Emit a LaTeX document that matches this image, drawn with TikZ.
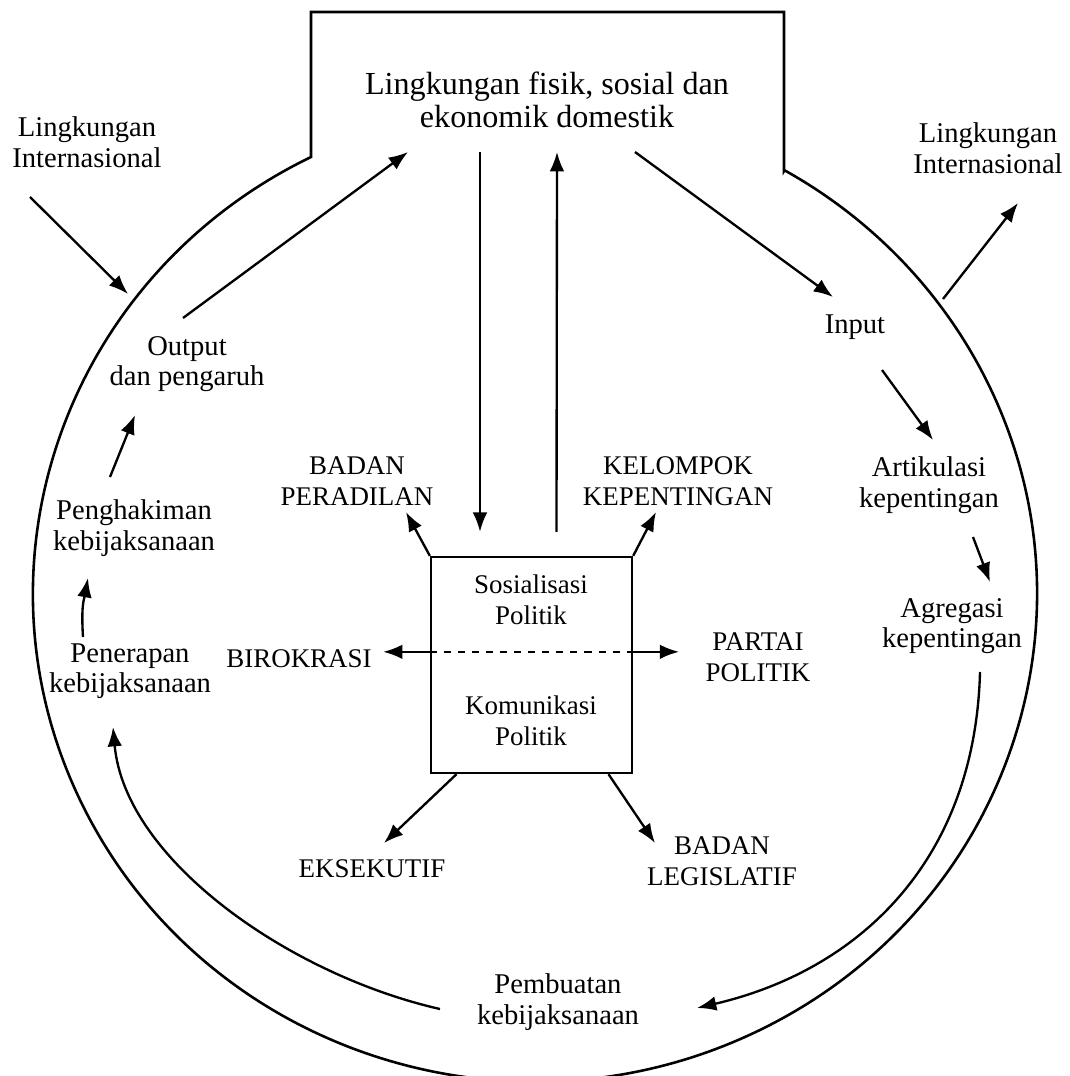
\documentclass[tikz,border=0pt]{standalone}
\usepackage{fontspec}
\setmainfont{Liberation Serif}
\usetikzlibrary{arrows.meta,calc}

\tikzset{
    lbl/.style={align=center, inner sep=1pt, font=\fontsize{12.2}{13}\selectfont},
    kap/.style={align=center, inner sep=1pt, font=\fontsize{11.5}{13}\selectfont},
    arr/.style={-{Latex[length=2.9mm,width=2.2mm]}},
}

\begin{document}
\begin{tikzpicture}[x=0.015cm, y=-0.015cm, line width=1pt]
    \useasboundingbox (0,0) rectangle (1069,1076);
    \draw[line width=1.1pt] (784,171) -- (784,12) -- (311,12) -- (311,157)
        arc[start angle=116.5, end angle=420.2, x radius=7.53cm, y radius=7.32cm] -- cycle;

    \node[align=center, font=\fontsize{13.7}{14.2}\selectfont] (env) at (547,100) {Lingkungan fisik, sosial dan\\ekonomik domestik};
    \node[lbl] (intL) at (87,142) {Lingkungan\\Internasional};
    \node[lbl] (intR) at (988,148) {Lingkungan\\Internasional};
    \node[lbl] (output) at (187,364) {Output\\dan pengaruh};
    \node[lbl] (input) at (855,327) {Input};
    \node[lbl] (artik) at (929,485) {Artikulasi\\kepentingan};
    \node[lbl] (agreg) at (952,626) {Agregasi\\kepentingan};
    \node[lbl] (peng) at (134,528) {Penghakiman\\kebijaksanaan};
    \node[lbl] (pener) at (130,671) {Penerapan\\kebijaksanaan};
    \node[lbl] (pemb) at (558,1002) {Pembuatan\\kebijaksanaan};

    \node[draw, minimum width=3.015cm, minimum height=3.24cm] (sistem) at (531.5,665) {};
    \node[kap] (sos) at (531,600) {Sosialisasi\\Politik};
    \node[kap] (kom) at (531,721) {Komunikasi\\Politik};
    \node[kap] (badanp) at (357,481) {BADAN\\PERADILAN};
    \node[kap] (kelompok) at (678,481) {KELOMPOK\\KEPENTINGAN};
    \node[kap] (biro) at (299,659) {BIROKRASI};
    \node[kap] (partai) at (758,657) {PARTAI\\POLITIK};
    \node[kap] (eksek) at (372,869) {EKSEKUTIF};
    \node[kap] (legis) at (722,861) {BADAN\\LEGISLATIF};

    \coordinate (kiri) at (128,294);
    \coordinate (kanan) at (943,299);

    \draw[dashed] ($(sistem.north west)+(0,96)$) coordinate (dl) -- ($(sistem.north east)+(0,96)$) coordinate (dr);
    \draw[arr] (dl) -- ($(biro.east |- dl)+(8,0)$);
    \draw[arr] (dr) -- ($(partai.west |- dr)+(-23,0)$);
    \draw[arr] (sistem.north west) -- ($(badanp)+(49,31)$);
    \draw[arr] (sistem.north east) -- ($(kelompok)+(-22,31)$);
    \draw[arr] ($(sistem.south)+(-75,0)$) -- ($(eksek)+(12,-26)$);
    \draw[arr] ($(sistem.south)+(77,0)$) -- ($(legis)+(-67,-18)$);
    \draw[arr] ($(env)+(-67,52)$) -- ($(sistem.north)+(-51.5,-24)$);
    \draw[arr] ($(sistem.north)+(25,-24)$) -- ($(env)+(10,52)$);

    \draw[arr] ($(intL)+(-57,55)$) -- (kiri);
    \draw[arr] (kanan) -- ($(intR)+(30,55)$);
    \draw[arr] ($(output)+(-4,-46)$) -- ($(env)+(-139,52)$);
    \draw[arr] ($(env)+(88,52)$) -- ($(input)+(-22,-30)$);
    \draw[arr] ($(input)+(27,43)$) -- ($(artik)+(4,-45)$);
    \draw[arr] ($(artik)+(44,52)$) -- ($(agreg)+(38,-44)$);
    \draw[arr] ($(agreg)+(28,46)$) .. controls +(-5,188) and +(163,-38) .. ($(pemb)+(139,6)$);
    \draw[arr] ($(pemb)+(-118,7)$) .. controls +(-150,-34) and +(12,133) .. ($(pener)+(-17,56)$);
    \draw[arr] ($(pener)+(-47,-34)$) .. controls +(-2,-32) and +(-4,22) .. ($(peng)+(-46,50)$);
    \draw[arr] ($(peng)+(-24,-51)$) -- ($(output)+(-52,51)$);
\end{tikzpicture}
\end{document}
